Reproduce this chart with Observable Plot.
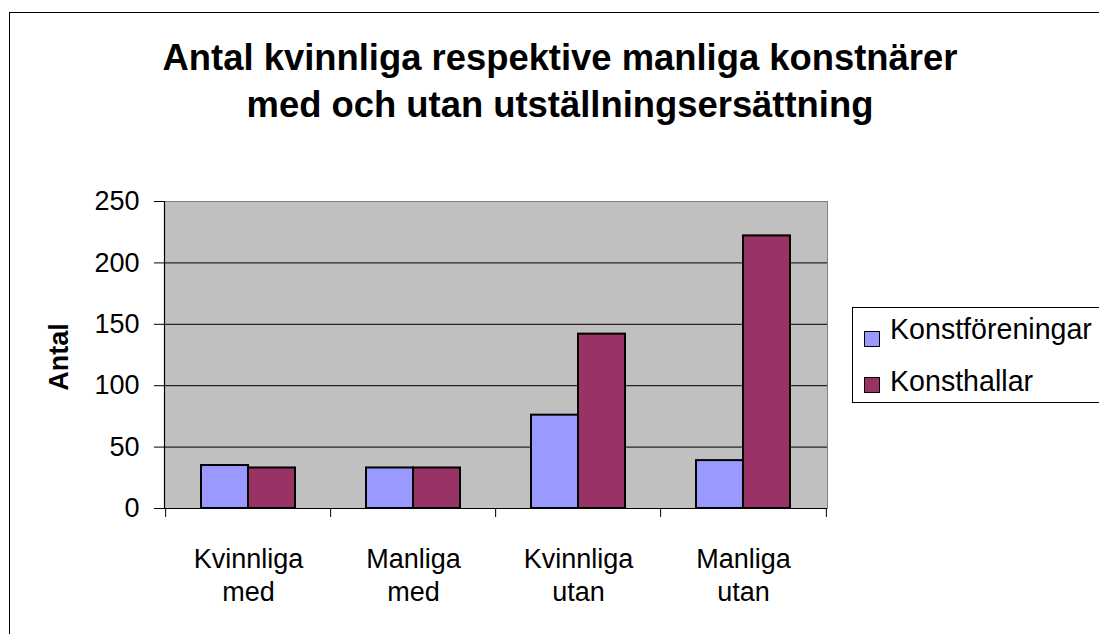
<!DOCTYPE html>
<html>
<head>
<meta charset="utf-8">
<script src="https://cdn.jsdelivr.net/npm/d3@7"></script>
<script src="https://cdn.jsdelivr.net/npm/@observablehq/plot@0.6"></script>
<style>
  html, body { margin: 0; padding: 0; background: #fff; overflow: hidden; width: 1099px; height: 634px; }
  body { position: relative; font-family: "Liberation Sans", Arial, sans-serif; color: #000; }
  #border { position: absolute; left: 9px; top: 12px; width: 1200px; height: 700px; border: 1px solid #000; box-sizing: border-box; pointer-events: none; z-index: 3; }
  #titlebox { position: relative; height: 140px; }
  #title { position: absolute; left: 0; top: 34px; width: 1120px; text-align: center; font-weight: bold; font-size: 36.4px; line-height: 47px; }
  #chart { position: relative; height: 494px; }
  #legend { position: absolute; left: 852px; top: 307px; width: 400px; height: 96px; border: 1px solid #000; box-sizing: border-box; background: #fff; z-index: 2; }
  .sw { position: absolute; width: 16px; height: 16px; border: 1.5px solid #000; box-sizing: border-box; }
  .lt { position: absolute; font-size: 28.6px; line-height: 28px; white-space: nowrap; }
</style>
</head>
<body>
<div id="border"></div>
<div id="titlebox"><div id="title">Antal kvinnliga respektive manliga konstnärer<br>med och utan utställningsersättning</div></div>
<div id="chart"></div>
<div id="legend"></div>
<script>
// ---- data ----
const categories = ["Kvinnliga\nmed", "Manliga\nmed", "Kvinnliga\nutan", "Manliga\nutan"];
const seriesNames = ["Konstföreningar", "Konsthallar"];
const konstforeningar = [35, 33, 76, 39];
const konsthallar = [33, 33, 142, 222];
const yTicks = [0, 50, 100, 150, 200, 250];
const yLabel = "Antal";
const seriesColors = ["#9999ff", "#993366"];

const table = categories.flatMap((c, i) => [
  {category: c, series: seriesNames[0], value: konstforeningar[i]},
  {category: c, series: seriesNames[1], value: konsthallar[i]}
]);

const W = 1099, H = 494, mL = 164, mR = 272, mT = 61, mB = 126;
const pIn = 0.433, pOut = 0.2165;
const step = (W - mL - mR) / (categories.length - pIn + 2 * pOut);
const half = step * (1 - pIn) / 2;

const plot = Plot.plot({
  width: W, height: H,
  marginLeft: mL, marginRight: mR, marginTop: mT, marginBottom: mB,
  style: {fontFamily: '"Liberation Sans", Arial, sans-serif', fontSize: "27px", color: "#000", background: "transparent", overflow: "visible"},
  x: {domain: categories, paddingInner: pIn, paddingOuter: pOut},
  y: {domain: [yTicks[0], yTicks[yTicks.length - 1]]},
  color: {domain: seriesNames, range: seriesColors},
  marks: [
    Plot.frame({fill: "#c0c0c0", stroke: "none"}),
    Plot.ruleY(yTicks.slice(1, -1), {stroke: "#000", strokeWidth: 1}),
    Plot.frame({stroke: "#808080", strokeWidth: 1}),
    Plot.barY(table.filter(d => d.series === seriesNames[0]), {x: "category", y: "value", fill: "series", stroke: "#000", strokeWidth: 2, insetRight: half}),
    Plot.barY(table.filter(d => d.series === seriesNames[1]), {x: "category", y: "value", fill: "series", stroke: "#000", strokeWidth: 2, insetLeft: half}),
    Plot.ruleY([0], {stroke: "#000", strokeWidth: 1.2}),
    Plot.frame({anchor: "left", stroke: "#000", strokeWidth: 1.2}),
    Plot.ruleX(categories, {x: d => d, y1: 0, y2: 0, dx: -step / 2, insetBottom: -9, stroke: "#000"}),
    Plot.ruleX(categories.slice(-1), {x: d => d, y1: 0, y2: 0, dx: step / 2, insetBottom: -9, stroke: "#000"}),
    Plot.axisY({ticks: yTicks, tickSize: 10, tickPadding: 15, fontSize: 27, label: null, tickFormat: d => String(d)}),
    Plot.axisX({tickSize: 0, tickPadding: 36, fontSize: 27, lineHeight: 1.22, label: null}),
    Plot.text([yLabel], {frameAnchor: "left", textAnchor: "middle", lineAnchor: "middle", dx: -105, dy: 2, rotate: -90, fontWeight: "bold", fontSize: 27})
  ]
});
document.getElementById("chart").appendChild(plot);

// legend
const legend = document.getElementById("legend");
seriesNames.forEach((name, i) => {
  const sw = document.createElement("div");
  sw.className = "sw";
  sw.style.left = "11px";
  sw.style.top = (23 + i * 46) + "px";
  sw.style.background = seriesColors[i];
  legend.appendChild(sw);
  const t = document.createElement("div");
  t.className = "lt";
  t.style.left = "37px";
  t.style.top = (7 + i * 52) + "px";
  t.textContent = name;
  legend.appendChild(t);
});
</script>
</body>
</html>
